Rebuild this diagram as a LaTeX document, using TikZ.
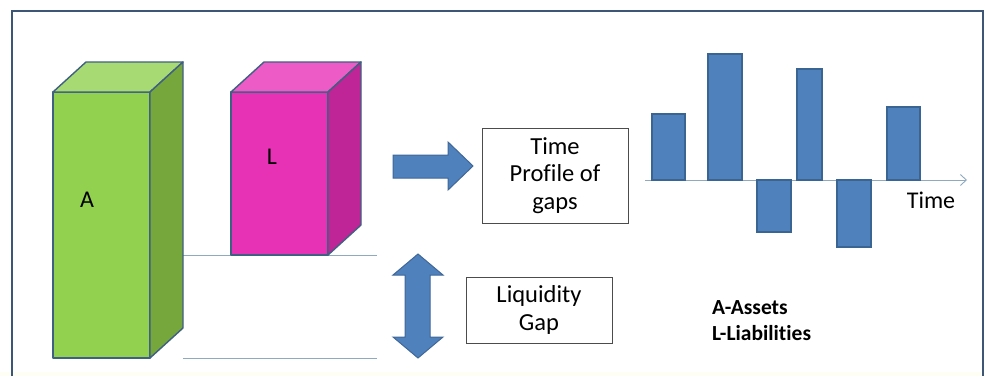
\documentclass[tikz,border=0pt]{standalone}
\usepackage{fontspec}
\setmainfont{Carlito}[Ligatures=NoCommon]
\usetikzlibrary{arrows.meta}
\definecolor{edge}{HTML}{3F6082}
\definecolor{gfront}{HTML}{92D050}
\definecolor{gtop}{HTML}{A8DA74}
\definecolor{gside}{HTML}{76A73C}
\definecolor{mfront}{HTML}{E832B6}
\definecolor{mtop}{HTML}{EC5BC6}
\definecolor{mside}{HTML}{BF2596}
\definecolor{barblue}{HTML}{4F81BD}
\definecolor{baredge}{HTML}{3A6592}
\definecolor{frame}{HTML}{3D5675}
\definecolor{guide}{HTML}{8FA9BF}
\tikzset{
  face/.style={draw=edge, line width=1.4pt, line join=round},
  gbar/.style={fill=barblue, draw=baredge, line width=1.3pt},
  txtbox/.style={draw=black!70, line width=0.6pt, fill=white, align=center, font=\fontsize{24.5}{27.5}\selectfont, inner sep=0pt},
  guideline/.style={draw=guide, line width=0.9pt},
  bigarrow/.style={fill=barblue, draw=barblue!80!black, line width=1pt, line join=miter},
  bigtext/.style={font=\fontsize{24}{24}\selectfont, inner sep=0pt},
}
\begin{document}
\begin{tikzpicture}[x=1pt,y=-1pt]
\useasboundingbox (0,0) rectangle (985,376);
\fill[white] (0,0) rectangle (985,376);
\fill[yellow!4] (0,372) rectangle (985,376);
% frame
\draw[frame, line width=2pt] (12,376) -- (12,11) -- (983,11) -- (983,376);
% guide lines
\coordinate (g1a) at (183,255); \coordinate (g1b) at (377,255);
\coordinate (g2a) at (183,358); \coordinate (g2b) at (377,358);
\draw[guideline] (g1a) -- (g1b);
\draw[guideline] (g2a) -- (g2b);
% Box A
\filldraw[face, fill=gfront] (53,92) rectangle (150,358);
\filldraw[face, fill=gtop] (53,92) -- (86,62) -- (183,62) -- (150,92) -- cycle;
\filldraw[face, fill=gside] (150,92) -- (183,62) -- (183,328) -- (150,358) -- cycle;
\node[bigtext] (A) at (87,200) {A};
% Box L
\filldraw[face, fill=mfront] (231,92) rectangle (328,255);
\filldraw[face, fill=mtop] (231,92) -- (264,62) -- (361,62) -- (328,92) -- cycle;
\filldraw[face, fill=mside] (328,92) -- (361,62) -- (361,225) -- (328,255) -- cycle;
\node[bigtext] (L) at (272,157) {L};
% right arrow
\filldraw[bigarrow] (393,155) -- (448,155) -- (448,142) -- (473,166) -- (448,190) -- (448,178) -- (393,178) -- cycle;
% double arrow
\filldraw[bigarrow] (418,254) -- (443,275) -- (430,275) -- (430,337) -- (443,337) -- (418,358) -- (393,337) -- (405,337) -- (405,275) -- (393,275) -- cycle;
% text boxes
\node[txtbox, minimum width=146pt, minimum height=95pt] (tp) at (555,175.5) {Time\\Profile of\\gaps};
\node[txtbox, minimum width=146pt, minimum height=66pt] (lg) at (539,310) {Liquidity\\Gap};
% axis
\coordinate (ax0) at (645,180); \coordinate (ax1) at (967,180);
\draw[guideline, -{Straight Barb[length=6pt,width=11pt]}] (ax0) -- (ax1);
% bars
\draw[gbar] (652,180) rectangle (685,114);
\draw[gbar] (708,180) rectangle (742,54);
\draw[gbar] (757,180) rectangle (791,232);
\draw[gbar] (797,180) rectangle (822,69);
\draw[gbar] (837,180) rectangle (871,247);
\draw[gbar] (887,180) rectangle (920,107);
\node[bigtext] (time) at (931,200) {Time};
% legend
\node[font=\fontsize{21.5}{26}\bfseries\selectfont, align=left, anchor=west, inner sep=0pt] (leg) at (712,321) {A-Assets\\L-Liabilities};
\end{tikzpicture}
\end{document}
